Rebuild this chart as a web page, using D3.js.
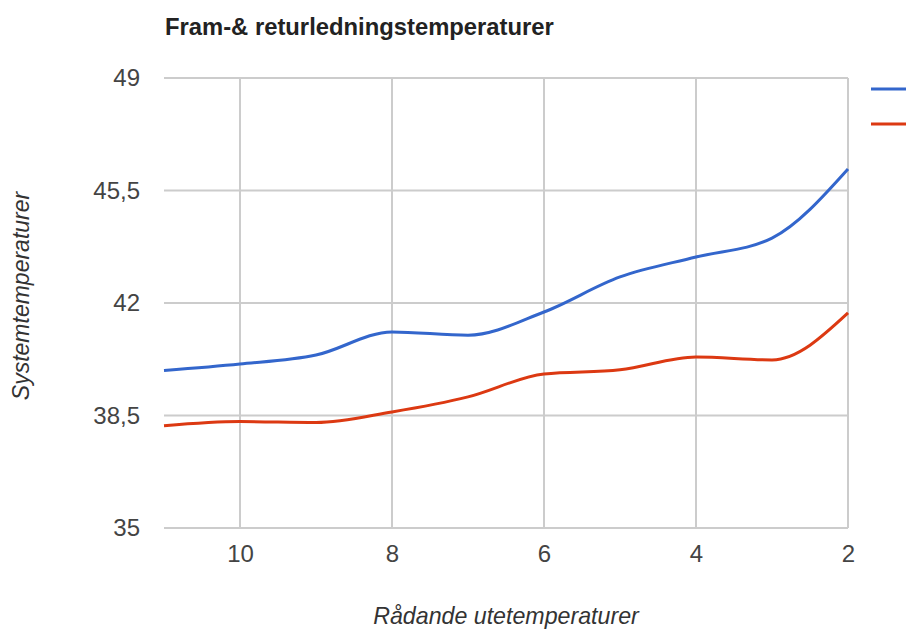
<!DOCTYPE html>
<html>
<head>
<meta charset="utf-8">
<script src="https://d3js.org/d3.v7.min.js"></script>
<style>
  body { margin: 0; background: #fff; }
  text { font-family: Arial, "Liberation Sans", sans-serif; }
</style>
</head>
<body>
<div id="chart"></div>
<script>
// outdoor temperature (x, reversed axis), supply / return temperatures
const ute = [11, 10, 9, 8, 7, 6, 5, 4, 3, 2]
const fram = [39.9, 40.1, 40.38, 41.1, 41.0, 41.72, 42.81, 43.43, 44.02, 46.17]
const retur = [38.18, 38.31, 38.28, 38.61, 39.08, 39.79, 39.92, 40.32, 40.23, 41.69]
const xTicks = [10, 8, 6, 4, 2]
const yTicks = [35, 38.5, 42, 45.5, 49]
const seriesNames = ['Framledning', 'Returledning']
const colors = ['#3366cc', '#dc3912']

const W = 906, H = 630
const svg = d3.select('#chart').append('svg')
  .attr('width', W).attr('height', H)

const x = d3.scaleLinear().domain([11, 2]).range([164, 848])
const y = d3.scaleLinear().domain([35, 49]).range([528, 78])

// grid
svg.append('g').selectAll('line.h')
  .data(yTicks).enter().append('line')
  .attr('x1', x(11)).attr('x2', x(2))
  .attr('y1', d => y(d)).attr('y2', d => y(d))
  .attr('stroke', '#cccccc').attr('stroke-width', 2)
svg.append('g').selectAll('line.v')
  .data(xTicks).enter().append('line')
  .attr('x1', d => x(d)).attr('x2', d => x(d))
  .attr('y1', y(49)).attr('y2', y(35))
  .attr('stroke', '#cccccc').attr('stroke-width', 2)

// axes (labels only)
const fmt = d => String(d).replace('.', ',')
const yAxis = svg.append('g')
  .attr('transform', 'translate(140,0)')
  .call(d3.axisLeft(y).tickValues(yTicks).tickFormat(fmt).tickSize(0).tickPadding(0))
yAxis.select('.domain').remove()
yAxis.selectAll('text').attr('font-size', 24).attr('fill', '#444').attr('font-family', 'Arial, "Liberation Sans", sans-serif')

const xAxis = svg.append('g')
  .attr('transform', 'translate(0,545)')
  .call(d3.axisBottom(x).tickValues(xTicks).tickFormat(fmt).tickSize(0).tickPadding(0))
xAxis.select('.domain').remove()
xAxis.selectAll('text').attr('font-size', 24).attr('fill', '#444').attr('font-family', 'Arial, "Liberation Sans", sans-serif')

// lines
const line = d3.line()
  .curve(d3.curveMonotoneX)
  .x((d, i) => x(ute[i]))
  .y(d => y(d))
;[fram, retur].forEach((s, i) => {
  svg.append('path')
    .datum(s)
    .attr('d', line)
    .attr('fill', 'none')
    .attr('stroke', colors[i])
    .attr('stroke-width', 3)
})

// legend swatches (labels fall outside the visible area)
seriesNames.forEach((n, i) => {
  const ly = 89 + i * 35
  svg.append('line')
    .attr('x1', 871).attr('x2', 913)
    .attr('y1', ly).attr('y2', ly)
    .attr('stroke', colors[i]).attr('stroke-width', 3)
    .append('title').text(n)
})

// titles
svg.append('text')
  .attr('x', 165).attr('y', 35)
  .attr('font-size', 23.8).attr('font-weight', 'bold').attr('fill', '#222')
  .text('Fram-& returledningstemperaturer')

svg.append('text')
  .attr('x', 506).attr('y', 624)
  .attr('text-anchor', 'middle')
  .attr('font-size', 23.2).attr('font-style', 'italic').attr('fill', '#333')
  .text('Rådande utetemperaturer')

svg.append('text')
  .attr('transform', 'translate(29,296) rotate(-90)')
  .attr('text-anchor', 'middle')
  .attr('font-size', 23).attr('font-style', 'italic').attr('fill', '#333')
  .text('Systemtemperaturer')
</script>
</body>
</html>
